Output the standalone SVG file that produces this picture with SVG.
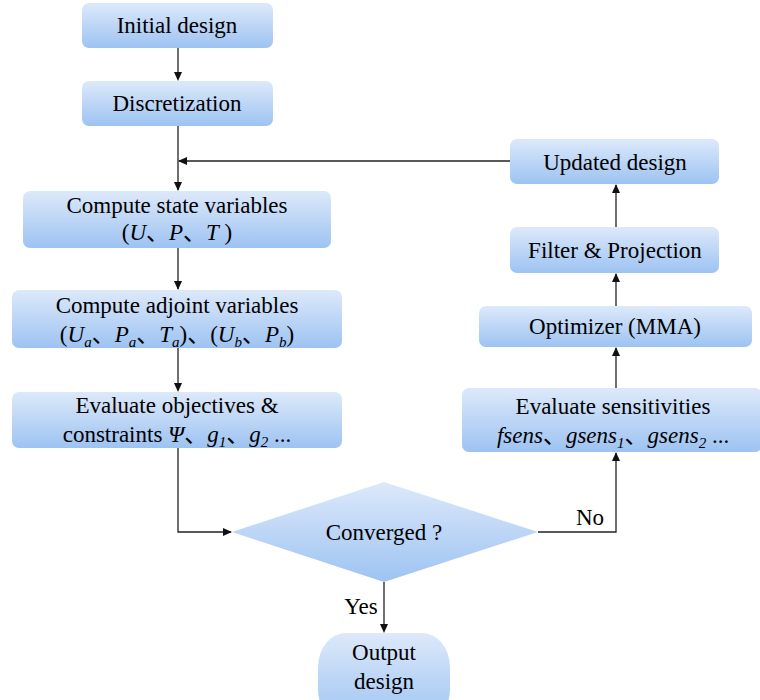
<svg xmlns="http://www.w3.org/2000/svg" xmlns:xlink="http://www.w3.org/1999/xlink" xml:lang="en" width="760" height="700" viewBox="0 0 760 700">
<defs>
<linearGradient id="g" x1="0" y1="0" x2="0" y2="1">
<stop offset="0" stop-color="#dde9fa"/>
<stop offset="1" stop-color="#9dc3f2"/>
</linearGradient>
<path id="arr" d="M0,0 L-4,-9 L4,-9 z" fill="#111"/>
</defs>
<rect width="760" height="700" fill="#fff"/>
<g id="connectors">
<g fill="none" stroke="#222" stroke-width="1.3">
<line x1="178" y1="47" x2="178" y2="79"/>
<line x1="178" y1="126" x2="178" y2="190"/>
<line x1="510" y1="161" x2="179" y2="161"/>
<line x1="178" y1="247" x2="178" y2="289"/>
<line x1="178" y1="348" x2="178" y2="390"/>
<polyline points="178,448 178,532 231,532"/>
<line x1="384" y1="582" x2="384" y2="631"/>
<polyline points="538,532 616,532 616,453"/>
<line x1="616" y1="388" x2="616" y2="348"/>
<line x1="616" y1="306" x2="616" y2="274"/>
<line x1="616" y1="227" x2="616" y2="185"/>
</g>
<use xlink:href="#arr" href="#arr" transform="translate(178,81)"/>
<use xlink:href="#arr" href="#arr" transform="translate(178,191)"/>
<use xlink:href="#arr" href="#arr" transform="translate(178,161) rotate(90)"/>
<use xlink:href="#arr" href="#arr" transform="translate(178,290)"/>
<use xlink:href="#arr" href="#arr" transform="translate(178,392)"/>
<use xlink:href="#arr" href="#arr" transform="translate(232,532) rotate(-90)"/>
<use xlink:href="#arr" href="#arr" transform="translate(384,633)"/>
<use xlink:href="#arr" href="#arr" transform="translate(616,452) rotate(180)"/>
<use xlink:href="#arr" href="#arr" transform="translate(616,347) rotate(180)"/>
<use xlink:href="#arr" href="#arr" transform="translate(616,273) rotate(180)"/>
<use xlink:href="#arr" href="#arr" transform="translate(616,184) rotate(180)"/>
<text font-family="Liberation Serif, Times New Roman, serif" font-size="23" text-anchor="middle" x="361" y="614">Yes</text>
<text font-family="Liberation Serif, Times New Roman, serif" font-size="23" text-anchor="middle" x="590" y="525">No</text>
</g>
<g id="initial">
<rect fill="url(#g)" x="82" y="3" width="191" height="45" rx="7"/>
<text font-family="Liberation Serif, Times New Roman, serif" font-size="23" text-anchor="middle" x="177" y="33">Initial design</text>
</g>
<g id="discretization">
<rect fill="url(#g)" x="82" y="81" width="191" height="45" rx="7"/>
<text font-family="Liberation Serif, Times New Roman, serif" font-size="23" text-anchor="middle" x="177" y="111">Discretization</text>
</g>
<g id="state">
<rect fill="url(#g)" x="23" y="191" width="308" height="57" rx="7"/>
<text font-family="Liberation Serif, Times New Roman, serif" font-size="23" text-anchor="middle" x="177" y="213">Compute state variables</text>
<text font-family="Liberation Serif, Noto Sans CJK SC, serif" font-size="23" text-anchor="middle" x="177" y="240">(<tspan font-style="italic">U</tspan>、<tspan font-style="italic">P</tspan>、<tspan font-style="italic">T</tspan> )</text>
</g>
<g id="adjoint">
<rect fill="url(#g)" x="12" y="290" width="330" height="58" rx="7"/>
<text font-family="Liberation Serif, Times New Roman, serif" font-size="23" text-anchor="middle" x="177" y="313">Compute adjoint variables</text>
<text font-family="Liberation Serif, Noto Sans CJK SC, serif" font-size="23" text-anchor="middle" x="177" y="342">(<tspan font-style="italic">U</tspan><tspan font-style="italic" font-size="15" dy="5">a</tspan><tspan dy="-5">、</tspan><tspan font-style="italic">P</tspan><tspan font-style="italic" font-size="15" dy="5">a</tspan><tspan dy="-5">、</tspan><tspan font-style="italic">T</tspan><tspan font-style="italic" font-size="15" dy="5">a</tspan><tspan dy="-5">)、(</tspan><tspan font-style="italic">U</tspan><tspan font-style="italic" font-size="15" dy="5">b</tspan><tspan dy="-5">、</tspan><tspan font-style="italic">P</tspan><tspan font-style="italic" font-size="15" dy="5">b</tspan><tspan dy="-5">)</tspan></text>
</g>
<g id="objectives">
<rect fill="url(#g)" x="12" y="392" width="330" height="56" rx="7"/>
<text font-family="Liberation Serif, Times New Roman, serif" font-size="23" text-anchor="middle" x="177" y="413">Evaluate objectives &amp;</text>
<text font-family="Liberation Serif, Noto Sans CJK SC, serif" font-size="23" text-anchor="middle" x="177" y="442">constraints <tspan font-style="italic">Ψ</tspan>、<tspan font-style="italic">g</tspan><tspan font-style="italic" font-size="15" dy="5">1</tspan><tspan dy="-5">、</tspan><tspan font-style="italic">g</tspan><tspan font-style="italic" font-size="15" dy="5">2</tspan><tspan dy="-5"> ...</tspan></text>
</g>
<g id="converged">
<polygon points="232,532 384,482 538,532 384,582" fill="url(#g)"/>
<text font-family="Liberation Serif, Times New Roman, serif" font-size="23" text-anchor="middle" x="384" y="540">Converged ?</text>
</g>
<g id="output">
<rect fill="url(#g)" x="318" y="633" width="132" height="90" rx="28" ry="34"/>
<text font-family="Liberation Serif, Times New Roman, serif" font-size="23" text-anchor="middle" x="384" y="660">Output</text>
<text font-family="Liberation Serif, Times New Roman, serif" font-size="23" text-anchor="middle" x="384" y="689">design</text>
</g>
<g id="sensitivities">
<rect fill="url(#g)" x="462" y="388" width="300" height="64" rx="7"/>
<text font-family="Liberation Serif, Times New Roman, serif" font-size="23" text-anchor="middle" x="613" y="414">Evaluate sensitivities</text>
<text font-family="Liberation Serif, Noto Sans CJK SC, serif" font-size="23" text-anchor="middle" x="613" y="443"><tspan font-style="italic">fsens</tspan>、<tspan font-style="italic">gsens</tspan><tspan font-style="italic" font-size="15" dy="5">1</tspan><tspan dy="-5">、</tspan><tspan font-style="italic">gsens</tspan><tspan font-style="italic" font-size="15" dy="5">2</tspan><tspan dy="-5"> ...</tspan></text>
</g>
<g id="optimizer">
<rect fill="url(#g)" x="479" y="306" width="273" height="41" rx="7"/>
<text font-family="Liberation Serif, Times New Roman, serif" font-size="23" text-anchor="middle" x="615" y="334">Optimizer (MMA)</text>
</g>
<g id="filter">
<rect fill="url(#g)" x="510" y="227" width="209" height="46" rx="7"/>
<text font-family="Liberation Serif, Times New Roman, serif" font-size="23" text-anchor="middle" x="615" y="258">Filter &amp; Projection</text>
</g>
<g id="updated">
<rect fill="url(#g)" x="510" y="139" width="209" height="45" rx="7"/>
<text font-family="Liberation Serif, Times New Roman, serif" font-size="23" text-anchor="middle" x="615" y="170">Updated design</text>
</g>
</svg>
